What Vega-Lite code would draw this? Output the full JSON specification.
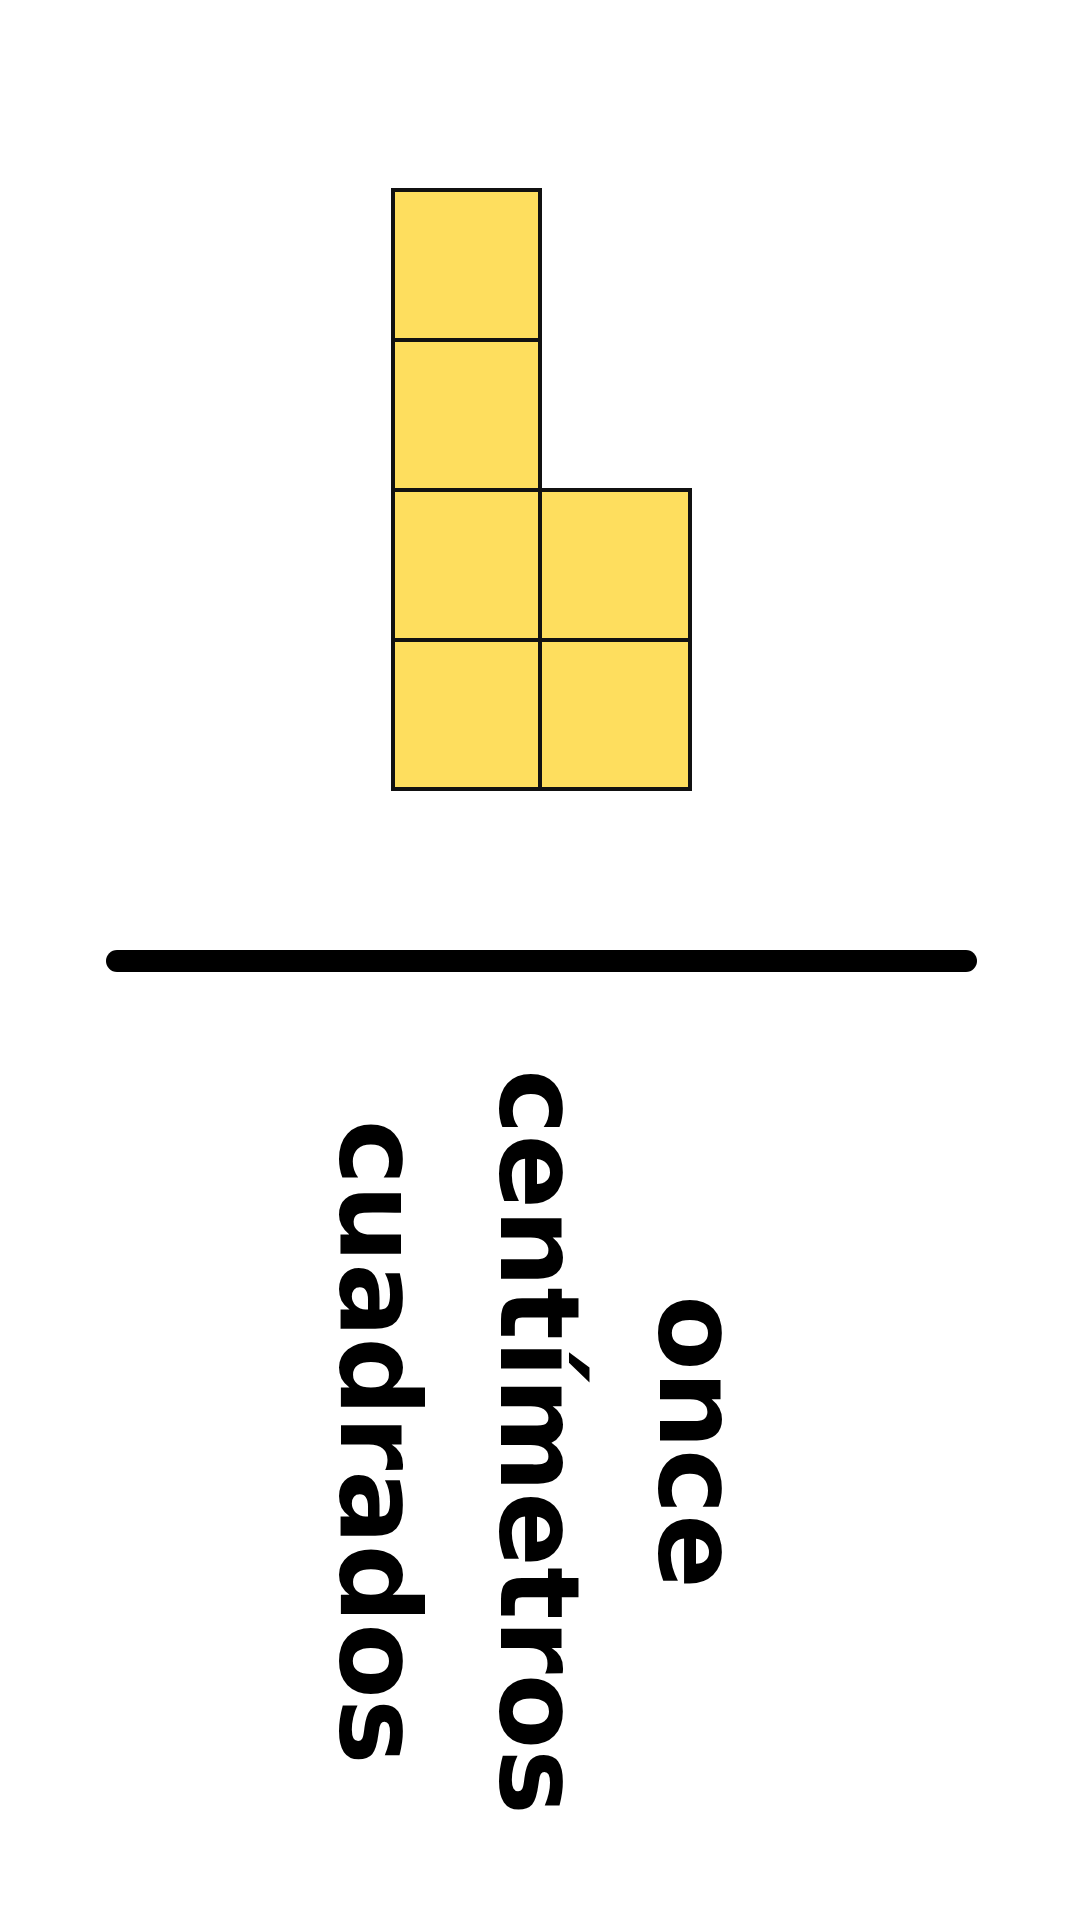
{
  "$schema": "https://vega.github.io/schema/vega-lite/v6.json",
  "width": 1080,
  "height": 1920,
  "autosize": {"type": "fit", "contains": "padding"},
  "padding": 0,
  "background": "white",
  "view": {"stroke": null},
  "datasets": {
    "squares": [
      {"x": 393, "x2": 540, "y": 190, "y2": 340},
      {"x": 393, "x2": 540, "y": 340, "y2": 490},
      {"x": 393, "x2": 540, "y": 490, "y2": 640},
      {"x": 393, "x2": 540, "y": 640, "y2": 789},
      {"x": 540, "x2": 690, "y": 490, "y2": 640},
      {"x": 540, "x2": 690, "y": 640, "y2": 789}
    ],
    "bar": [{"x": 117, "x2": 966, "y": 961}],
    "words": [
      {"word": "once", "x": 693, "y": 1442},
      {"word": "centímetros", "x": 534, "y": 1442},
      {"word": "cuadrados", "x": 374, "y": 1442}
    ]
  },
  "layer": [
    {
      "data": {"name": "squares"},
      "mark": {"type": "rect", "fill": "#FEDE5E", "stroke": "#111111", "strokeWidth": 4},
      "encoding": {
        "x": {"field": "x", "type": "quantitative", "scale": {"domain": [0, 1080], "nice": false, "zero": false}, "axis": null},
        "x2": {"field": "x2"},
        "y": {"field": "y", "type": "quantitative", "scale": {"domain": [0, 1920], "reverse": true, "nice": false, "zero": false}, "axis": null},
        "y2": {"field": "y2"}
      }
    },
    {
      "data": {"name": "bar"},
      "mark": {"type": "rule", "color": "black", "strokeWidth": 22, "strokeCap": "round"},
      "encoding": {
        "x": {"field": "x", "type": "quantitative"},
        "x2": {"field": "x2"},
        "y": {"field": "y", "type": "quantitative"}
      }
    },
    {
      "data": {"name": "words"},
      "mark": {"type": "text", "angle": 90, "align": "center", "baseline": "middle", "font": "DejaVu Sans", "fontWeight": "bold", "fontSize": 110, "color": "black"},
      "encoding": {
        "x": {"field": "x", "type": "quantitative"},
        "y": {"field": "y", "type": "quantitative"},
        "text": {"field": "word"}
      }
    }
  ]
}
